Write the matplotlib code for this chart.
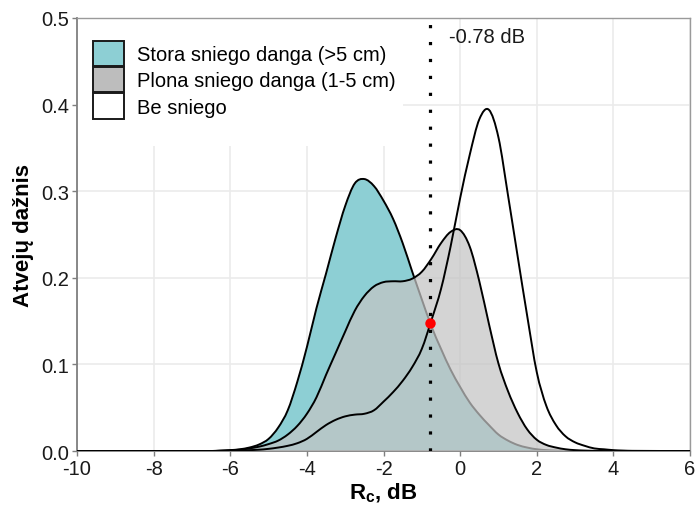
import numpy as np
import matplotlib
matplotlib.use("Agg")
import matplotlib.pyplot as plt
from matplotlib.patches import Patch, Rectangle, PathPatch
from matplotlib.path import Path

plt.rcParams['font.family'] = ['Liberation Sans', 'DejaVu Sans']
plt.rcParams['mathtext.fontset'] = 'custom'
plt.rcParams['mathtext.rm'] = 'Liberation Sans'
plt.rcParams['mathtext.bf'] = 'Liberation Sans:bold'

# ---------------- data ----------------
x_vals = [-10.0, -6.5, -6.25, -6.0, -5.75, -5.5, -5.25, -5.0, -4.75, -4.5, -4.25, -4.0,
          -3.75, -3.5, -3.25, -3.0, -2.75, -2.5, -2.25, -2.0, -1.75, -1.5, -1.25,
          -1.0, -0.75, -0.5, -0.25, 0.0, 0.25, 0.5, 0.75, 1.0, 1.25, 1.5, 1.75,
          2.0, 2.25, 2.5, 2.75, 3.0, 3.25, 3.5, 3.75, 4.0, 4.25, 4.5, 6.0]

stora = [0.0, 0.0, 0.0005, 0.001, 0.002, 0.004, 0.0075, 0.014, 0.027, 0.047, 0.080, 0.120,
         0.165, 0.205, 0.246, 0.283, 0.309, 0.314, 0.306, 0.289, 0.268, 0.240, 0.207,
         0.175, 0.144, 0.118, 0.094, 0.074, 0.056, 0.042, 0.030, 0.019, 0.012, 0.007, 0.004,
         0.002, 0.001, 0.0005, 0.0002, 0.0, 0.0, 0.0, 0.0, 0.0, 0.0, 0.0, 0.0]

plona = [0.0, 0.0, 0.0003, 0.0008, 0.0015, 0.003, 0.005, 0.008, 0.012, 0.019, 0.029, 0.043,
         0.062, 0.088, 0.113, 0.138, 0.162, 0.179, 0.190, 0.195, 0.196, 0.196, 0.199,
         0.207, 0.222, 0.240, 0.253, 0.255, 0.236, 0.196, 0.147, 0.101, 0.069, 0.044, 0.025,
         0.013, 0.007, 0.004, 0.002, 0.001, 0.0005, 0.0002, 0.0, 0.0, 0.0, 0.0, 0.0]

be = [0.0, 0.0, 0.0, 0.0003, 0.0006, 0.001, 0.0015, 0.0025, 0.004, 0.006, 0.009, 0.014,
      0.022, 0.030, 0.036, 0.040, 0.042, 0.043, 0.047, 0.057, 0.068, 0.081, 0.097,
      0.118, 0.151, 0.187, 0.236, 0.292, 0.342, 0.383, 0.394, 0.362, 0.295, 0.225, 0.156,
      0.091, 0.052, 0.030, 0.017, 0.010, 0.006, 0.003, 0.002, 0.001, 0.0005, 0.0002, 0.0]

labels = ["Stora sniego danga (>5 cm)", "Plona sniego danga (1-5 cm)", "Be sniego"]
threshold = -0.78
threshold_y = 0.148
threshold_text = "-0.78 dB"
x_ticks = [-10, -8, -6, -4, -2, 0, 2, 4, 6]
y_ticks = [0.0, 0.1, 0.2, 0.3, 0.4, 0.5]

# ---------------- styles ----------------
teal = '#8dcfd4'
grey = '#c4c4c4'
FS = 14.5


def smooth_path(xs, ys, closed_fill=False):
    """Cubic Bezier path through the read points (smooth rendering only)."""
    xs = np.asarray(xs, float)
    ys = np.asarray(ys, float)
    n = len(xs)
    m = np.zeros(n)
    m[1:-1] = (ys[2:] - ys[:-2]) / (xs[2:] - xs[:-2])
    verts = [(xs[0], ys[0])]
    codes = [Path.MOVETO]
    for i in range(n - 1):
        h = xs[i + 1] - xs[i]
        verts += [(xs[i] + h / 3, ys[i] + m[i] * h / 3),
                  (xs[i + 1] - h / 3, ys[i + 1] - m[i + 1] * h / 3),
                  (xs[i + 1], ys[i + 1])]
        codes += [Path.CURVE4] * 3
    if closed_fill:
        verts += [(xs[-1], 0.0), (xs[0], 0.0), (xs[0], ys[0])]
        codes += [Path.LINETO, Path.LINETO, Path.CLOSEPOLY]
    return Path(verts, codes)


fig = plt.figure(figsize=(6.97, 5.06), dpi=100)
ax = fig.add_axes([0.1105, 0.1067, 0.8795, 0.8558])

LW = 1.4
ax.add_patch(PathPatch(smooth_path(x_vals, stora, True), facecolor=teal,
                       edgecolor='none', zorder=2))
ax.add_patch(PathPatch(smooth_path(x_vals, stora), fill=False, edgecolor='black',
                       lw=LW, zorder=2.1))
ax.add_patch(PathPatch(smooth_path(x_vals, plona, True), facecolor=grey, alpha=0.72,
                       edgecolor='none', zorder=3))
ax.add_patch(PathPatch(smooth_path(x_vals, plona), fill=False, edgecolor='black',
                       lw=LW, zorder=3.1))
ax.add_patch(PathPatch(smooth_path(x_vals, be), fill=False, edgecolor='black',
                       lw=LW, zorder=4))

ax.axvline(threshold, color='black', lw=2.3, linestyle=(0, (1, 4.3)),
           dash_capstyle='butt', zorder=5)
ax.plot([threshold], [threshold_y], 'o', color='#ff0000', ms=7.5, zorder=6,
        markeredgewidth=0)
ax.text(-0.3, 0.479, threshold_text, fontsize=FS, color='#1a1a1a',
        ha='left', va='center', zorder=6)

ax.set_xlim(-10, 6)
ax.set_ylim(0, 0.5)
ax.set_xticks(x_ticks)
ax.set_yticks(y_ticks)
ax.set_xticklabels([str(t) for t in x_ticks])
ax.set_yticklabels([f"{t:.1f}" for t in y_ticks])
ax.tick_params(axis='both', labelsize=FS, colors='#7f7f7f', labelcolor='#1a1a1a',
               length=3.5, width=1, pad=2)
ax.grid(True, color='#ebebeb', lw=1.2, zorder=0)
ax.set_axisbelow(True)
for s in ['left', 'bottom']:
    ax.spines[s].set_color('#7f7f7f')
    ax.spines[s].set_linewidth(1.3)
for s in ['top', 'right']:
    ax.spines[s].set_color('#9a9a9a')
    ax.spines[s].set_linewidth(1.0)

ax.set_ylabel("Atvejų dažnis", fontsize=16, fontweight='bold', labelpad=5)
ax.set_xlabel(r"R$_{\mathbf{c}}$, dB", fontsize=16, fontweight='bold', labelpad=2)

# legend background
ax.add_patch(Rectangle((0, 0.704), 0.532, 0.296, transform=ax.transAxes,
                       facecolor='white', edgecolor='none', zorder=1.5))
handles = [Patch(facecolor=teal, edgecolor='#1a1a1a', lw=1.4),
           Patch(facecolor='#bdbdbd', edgecolor='#1a1a1a', lw=1.4),
           Patch(facecolor='white', edgecolor='#1a1a1a', lw=1.4)]
leg = ax.legend(handles, labels, loc='upper left', bbox_to_anchor=(0.026, 0.947),
                frameon=False, borderpad=0, borderaxespad=0, fontsize=FS,
                handlelength=1.55, handleheight=1.55, handletextpad=0.62,
                labelspacing=0.05)
leg.set_zorder(7)

fig.savefig("out.png", dpi=100)
